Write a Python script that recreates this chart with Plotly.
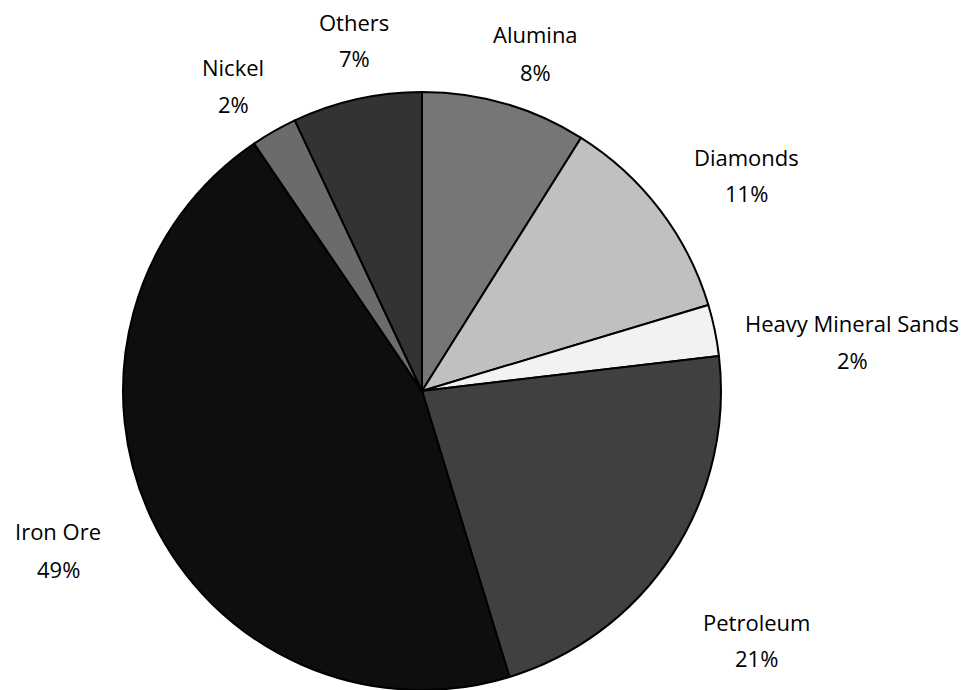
import plotly.graph_objects as go

# ---- data ----
categories = ["Alumina", "Diamonds", "Heavy Mineral Sands", "Petroleum", "Iron Ore", "Nickel", "Others"]
shares = [8.93, 11.43, 2.77, 22.15, 45.24, 2.50, 6.99]
pct_labels = ["8%", "11%", "2%", "21%", "49%", "2%", "7%"]

# ---- style ----
colors = ["#767676", "#c0c0c0", "#f2f2f2", "#404040", "#0e0e0e", "#6b6b6b", "#333333"]
W, H = 971, 690
# label centre positions in pixels (x, y of name line, y of percent line)
label_pos = {
    "Alumina": (535, 34, 72),
    "Diamonds": (746, 157, 193),
    "Heavy Mineral Sands": (852, 323, 360),
    "Petroleum": (756, 622, 658),
    "Iron Ore": (58, 531, 569),
    "Nickel": (233, 67, 104),
    "Others": (354, 22, 58),
}
FONT = dict(family="Open Sans", size=22, color="#000000")

fig = go.Figure(go.Pie(
    labels=categories,
    values=shares,
    sort=False,
    direction="clockwise",
    rotation=0,
    marker=dict(colors=colors, line=dict(color="#000000", width=2)),
    textinfo="none",
    hoverinfo="label+percent",
    showlegend=False,
    domain=dict(x=[122 / W, 722 / W], y=[0.0, 598 / H]),
))

annotations = []
for cat, pct in zip(categories, pct_labels):
    x, y1, y2 = label_pos[cat]
    for txt, yy in ((cat, y1), (pct, y2)):
        annotations.append(dict(
            text=txt, x=x / W, y=1 - yy / H, xref="paper", yref="paper",
            xanchor="center", yanchor="middle", showarrow=False, font=FONT,
        ))

fig.update_layout(
    width=W, height=H,
    margin=dict(l=0, r=0, t=0, b=0),
    paper_bgcolor="white", plot_bgcolor="white",
    annotations=annotations,
)

fig.write_html(
    "out.html",
    config={"displayModeBar": False},
    post_script="document.body.style.margin='0';document.body.style.overflow='hidden';",
)
